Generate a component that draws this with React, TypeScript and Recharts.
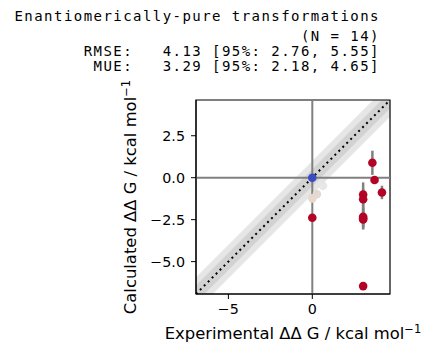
import React from "react";
import {
  ComposedChart,
  XAxis,
  YAxis,
  Area,
  Line,
  Scatter,
  ErrorBar,
  ReferenceLine,
  ReferenceArea,
} from "recharts";

// ---- data ----
const AXIS_LIMITS = [-6.93, 4.63];
const X_TICKS = [-5, 0];
const Y_TICKS = [-5, -2.5, 0, 2.5];

const EXPERIMENTAL = [0, 0.63, 0.27, 0, 0, 3.58, 3.71, 4.15, 3.03, 3.03, 3.03, 3.03, 3.03, 3.03];
const CALCULATED = [0, -0.48, -0.98, -1.23, -2.39, 0.89, -0.14, -0.88, -1.0, -1.28, -2.33, -2.49, -2.42, -6.46];
const CALC_ERR = [0, 0.25, 0.25, 0.2, 0, 0.72, 0, 0.4, 0.72, 0.6, 0.6, 0.6, 0.6, 0];
const EXP_ERR = [0, 0.25, 0.2, 0.15, 0, 0, 0, 0, 0, 0, 0, 0, 0, 0];
const POINT_COLORS = [
  "#3b4cc0", "#e9e7e6", "#e4dad3", "#e8d8ce", "#b40426", "#b40426", "#b40426",
  "#b40426", "#b40426", "#b40426", "#b40426", "#b40426", "#b40426", "#b40426",
];
const LIGHT_POINTS = [1, 2, 3];

const TITLE_LINES = [
  "Enantiomerically-pure transformations",
  "(N = 14)",
  "RMSE:   4.13 [95%: 2.76, 5.55]",
  "MUE:   3.29 [95%: 2.18, 4.65]",
];

const bandData = AXIS_LIMITS.map((x) => ({
  x,
  outer: [x - 1, x + 1],
  inner: [x - 0.5, x + 0.5],
  diag: x,
}));

const points = EXPERIMENTAL.map((x, i) => ({
  x,
  y: CALCULATED[i],
  ey: CALC_ERR[i],
  ex: EXP_ERR[i],
  color: POINT_COLORS[i],
}));
const lightPts = points.filter((_, i) => LIGHT_POINTS.includes(i));
const darkPts = points.filter((_, i) => !LIGHT_POINTS.includes(i));

const FONT = "DejaVu Sans";
const TICK_FS = 14.3;
const LABEL_FS = 16.4;

const fmtY = (v: number) => (v < 0 ? "\u2212" + Math.abs(v).toFixed(1) : v.toFixed(1));
const fmtX = (v: number) => (v < 0 ? "\u2212" + Math.abs(v) : String(v));

const Dot = (props: any) => {
  const { cx, cy, payload } = props;
  if (cx == null || cy == null) return <g />;
  return <circle cx={cx} cy={cy} r={4.3} fill={payload.color} />;
};
const Empty = () => <g />;

const axisLabel = (first: string, rotate: boolean) => (props: any) => {
  const vb = props.viewBox;
  const content = [
    first + " ΔΔ G / kcal mol",
    <tspan key="s" dy={-6} fontSize={LABEL_FS * 0.7}>{"\u22121"}</tspan>,
  ];
  if (rotate) {
    const cx = 136;
    const cy = vb.y + vb.height / 2;
    return (
      <text
        x={cx}
        y={cy}
        transform={`rotate(-90 ${cx} ${cy})`}
        textAnchor="middle"
        fontFamily={FONT}
        fontSize={LABEL_FS}
        fill="#000"
      >
        {content}
      </text>
    );
  }
  const cx = vb.x + vb.width / 2;
  const cy = 339;
  return (
    <text x={cx} y={cy} textAnchor="middle" fontFamily={FONT} fontSize={LABEL_FS} fill="#000">
      {content}
    </text>
  );
};

export default function App() {
  return (
    <div style={{ position: "absolute", left: 0, top: 0, width: 432, height: 358, background: "#fff" }}>
      <svg width={432} height={80} style={{ position: "absolute", left: 0, top: 0 }}>
        {TITLE_LINES.map((t, i) => (
          <text
            key={i}
            x={380}
            y={[21, 41, 56, 71][i]}
            textAnchor="end"
            fontFamily="DejaVu Sans Mono"
            fontSize={14}
            letterSpacing={1.45}
            fill="#000"
            style={{ whiteSpace: "pre" }}
            xmlSpace="preserve"
          >
            {t}
          </text>
        ))}
      </svg>
      <div style={{ position: "absolute", left: 0, top: 0 }}>
        <ComposedChart
          width={432}
          height={358}
          data={bandData}
          margin={{ top: 100, right: 42, bottom: 34, left: 136 }}
        >
          <XAxis
            type="number"
            dataKey="x"
            domain={AXIS_LIMITS}
            allowDataOverflow
            ticks={X_TICKS}
            tickFormatter={fmtX}
            height={30}
            tick={{ fontFamily: FONT, fontSize: TICK_FS, fill: "#000" }}
            tickLine={{ stroke: "#000" }}
            tickSize={5}
            tickMargin={5}
            axisLine={{ stroke: "#000" }}
            label={axisLabel("Experimental", false)}
          />
          <YAxis
            type="number"
            domain={AXIS_LIMITS}
            allowDataOverflow
            ticks={Y_TICKS}
            tickFormatter={fmtY}
            width={60}
            tick={{ fontFamily: FONT, fontSize: TICK_FS, fill: "#000" }}
            tickLine={{ stroke: "#000" }}
            tickSize={5}
            tickMargin={6}
            axisLine={{ stroke: "#000" }}
            label={axisLabel("Calculated", true)}
          />
          <Area
            dataKey="outer"
            type="linear"
            stroke="none"
            fill="#808080"
            fillOpacity={0.2}
            isAnimationActive={false}
            activeDot={false}
          />
          <Area
            dataKey="inner"
            type="linear"
            stroke="none"
            fill="#808080"
            fillOpacity={0.2}
            isAnimationActive={false}
            activeDot={false}
          />
          <ReferenceLine x={0} stroke="#808080" strokeWidth={2} />
          <ReferenceLine y={0} stroke="#808080" strokeWidth={2} />
          <Line
            dataKey="diag"
            type="linear"
            stroke="#000"
            strokeWidth={2}
            strokeDasharray="2 3.6"
            dot={false}
            activeDot={false}
            isAnimationActive={false}
          />
          <Scatter data={lightPts} dataKey="y" shape={Empty} isAnimationActive={false}>
            <ErrorBar dataKey="ey" direction="y" width={0} stroke="#d4d4d4" strokeWidth={2.5} />
            <ErrorBar dataKey="ex" direction="x" width={0} stroke="#d4d4d4" strokeWidth={2.5} />
          </Scatter>
          <Scatter data={darkPts} dataKey="y" shape={Empty} isAnimationActive={false}>
            <ErrorBar dataKey="ey" direction="y" width={0} stroke="#808080" strokeWidth={2.5} />
          </Scatter>
          <Scatter data={points} dataKey="y" shape={Dot} isAnimationActive={false} />
          <ReferenceArea
            x1={AXIS_LIMITS[0]}
            x2={AXIS_LIMITS[1]}
            y1={AXIS_LIMITS[0]}
            y2={AXIS_LIMITS[1]}
            fill="none"
            stroke="#000"
            strokeWidth={1.2}
          />
        </ComposedChart>
      </div>
    </div>
  );
}
